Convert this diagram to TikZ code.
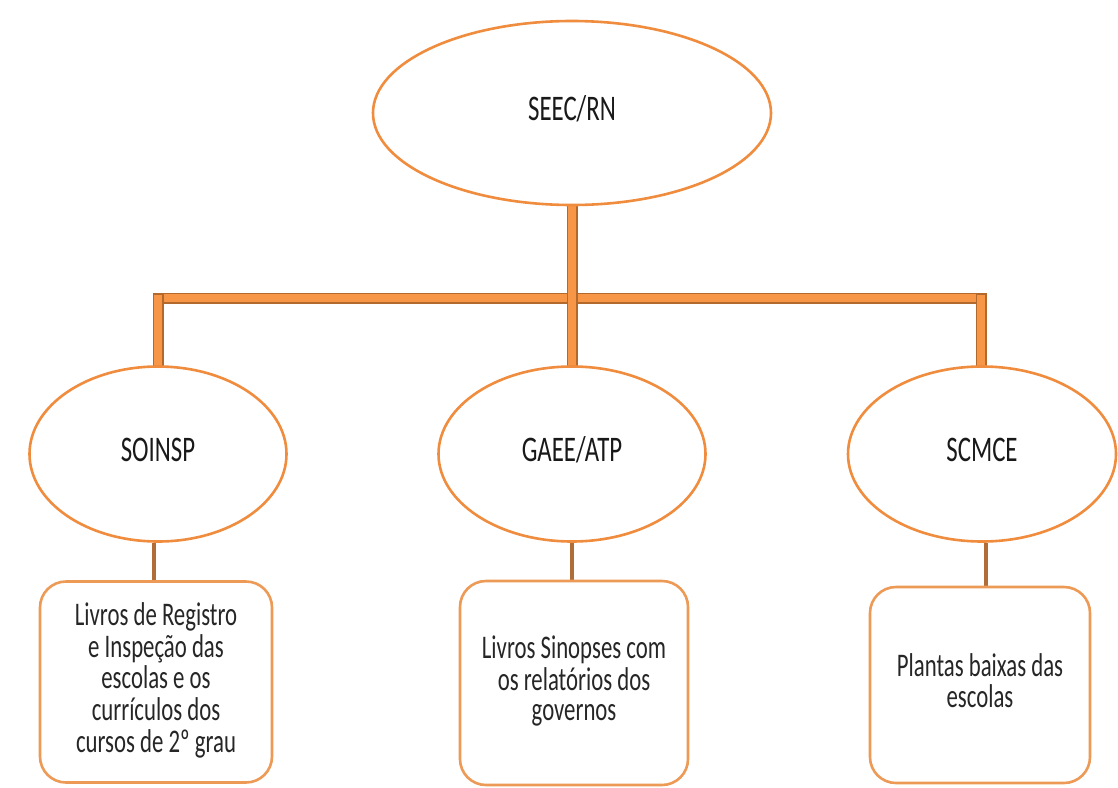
\documentclass[tikz,border=0pt]{standalone}
\usepackage{fontspec}
\setmainfont{Carlito}
\usetikzlibrary{shapes.geometric,backgrounds}
\definecolor{ringorange}{HTML}{F08C3E}
\definecolor{boxorange}{HTML}{EC9A55}
\definecolor{barfill}{HTML}{F79646}
\definecolor{barline}{HTML}{B3682C}
\definecolor{stem}{HTML}{B06D38}
\newcommand\condtext[1]{\scalebox{0.69}[1]{\begin{tabular}{@{}c@{}}#1\end{tabular}}}
\tikzset{
  unit/.style={ellipse, draw=ringorange, line width=2.6pt, fill=white, inner sep=0pt,
    font=\fontsize{36}{36}\selectfont, text=black!90},
  docbox/.style={rectangle, rounded corners=26pt, draw=boxorange, line width=2.6pt, fill=white,
    inner sep=0pt, font=\fontsize{33}{30}\selectfont, text=black!85},
  bar/.style={draw=barline, line width=1.5pt, double=barfill, double distance=8pt, line cap=rect},
  stemline/.style={draw=stem, line width=4.5pt}
}
\begin{document}
\begin{tikzpicture}[x=1pt, y=-1pt]
  \useasboundingbox (0,0) rectangle (1118,787);

  % units
  \node[unit, minimum width=398pt, minimum height=184pt] (seec) at (572,113) {\condtext{SEEC/RN}};
  \node[unit, minimum width=257pt, minimum height=175pt] (soinsp) at (158,454) {\condtext{SOINSP}};
  \node[unit, minimum width=267pt, minimum height=175pt] (gaee) at (572,454) {\condtext{GAEE/ATP}};
  \node[unit, minimum width=268pt, minimum height=175pt] (scmce) at (982,454) {\condtext{SCMCE}};

  % document boxes
  \node[docbox, minimum width=232pt, minimum height=201pt] (doc1) at (156,682)
    {\condtext{Livros de Registro\\e Inspeção das\\escolas e os\\currículos dos\\cursos de 2º grau}};
  \node[docbox, minimum width=228pt, minimum height=204pt] (doc2) at (574,683)
    {\condtext{Livros Sinopses com\\os relatórios dos\\governos}};
  \node[docbox, minimum width=220pt, minimum height=196pt] (doc3) at (980,685)
    {\condtext{Plantas baixas das\\escolas}};

  % junction points of the bar frame
  \coordinate (hub) at (572,298);
  \coordinate (hl) at (158,298);
  \coordinate (hr) at (981,298);

  \begin{pgfonlayer}{background}
    \fill[white] (0,0) rectangle (1118,787);
    \draw[bar] (hl) -- (hr);
    \draw[bar] (seec.south) -- (gaee.north);
    \draw[bar] ([yshift=-0.5pt]hl) -- (soinsp.north);
    \draw[bar] ([yshift=-0.5pt]hr) -- (hr |- scmce.north);
    \draw[stemline] ([xshift=-4pt]soinsp.south) -- ([xshift=-4pt]soinsp.south |- doc1.north);
    \draw[stemline] (gaee.south) -- (gaee.south |- doc2.north);
    \draw[stemline] ([xshift=4pt]scmce.south) -- ([xshift=4pt]scmce.south |- doc3.north);
  \end{pgfonlayer}
\end{tikzpicture}
\end{document}
